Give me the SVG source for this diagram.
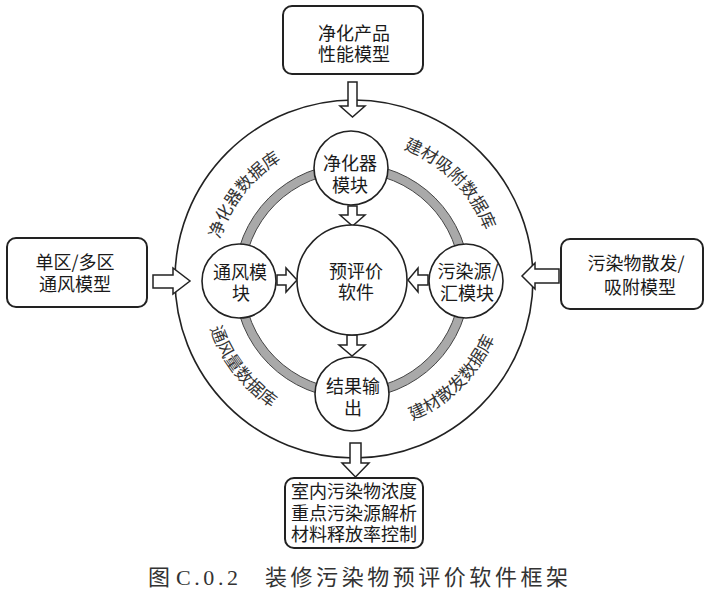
<svg xmlns="http://www.w3.org/2000/svg" width="712" height="600" viewBox="0 0 712 600">
<style>
.box{fill:#fff;stroke:#222;stroke-width:2}
.circ{fill:#fff;stroke:#222;stroke-width:1.6}
.t{font-family:"Noto Sans CJK SC","Noto Sans CJK JP",sans-serif;font-size:18px;fill:#1a1a1a;text-anchor:middle}
.arc{font-family:"Noto Sans CJK SC","Noto Sans CJK JP",sans-serif;font-size:17px;fill:#333;text-anchor:middle}
.arr{fill:#fff;stroke:#222;stroke-width:1.5;stroke-linejoin:miter}
.cap{font-family:"Liberation Serif","Noto Sans CJK SC",serif;font-size:22px;fill:#333}
</style>
<defs>
<path id="topArc" d="M 214 280 A 140 140 0 0 1 494 280"/>
<path id="botArc" d="M 202 280 A 152 152 0 0 0 506 280"/>
</defs>
<rect x="0" y="0" width="712" height="600" fill="#fff"/>

<g id="outer-ring">
<circle cx="354" cy="279" r="179" fill="none" stroke="#222" stroke-width="1.6"/>
<text class="arc"><textPath href="#topArc" startOffset="21%">净化器数据库</textPath></text>
<text class="arc"><textPath href="#topArc" startOffset="75%">建材吸附数据库</textPath></text>
<text class="arc"><textPath href="#botArc" startOffset="21%">通风量数据库</textPath></text>
<text class="arc"><textPath href="#botArc" startOffset="75%">建材散发数据库</textPath></text>
</g>

<g id="inner-ring">
<circle cx="352" cy="281" r="113" fill="none" stroke="#a9a9a9" stroke-width="9"/>
<circle cx="352" cy="281" r="108.5" fill="none" stroke="#444" stroke-width="1"/>
<circle cx="352" cy="281" r="117.5" fill="none" stroke="#444" stroke-width="1"/>
</g>

<g id="connectors">
<polygon class="arr" points="348,82 357,82 357,106 365,106 352.5,117 340,106 348,106"/>
<polygon class="arr" points="348,206 357,206 357,215 365,215 352.5,226 340,215 348,215"/>
<polygon class="arr" points="347,335 357,335 357,345 365,345 352,356 339,345 347,345"/>
<polygon class="arr" points="277,275 286,275 286,268 297,280 286,292 286,285 277,285"/>
<polygon class="arr" points="428,275 418,275 418,268 408,280 418,292 418,285 428,285"/>
<polygon class="arr" points="153,275 173,275 173,268 190,281 173,294 173,288 153,288"/>
<polygon class="arr" points="559,269 535,269 535,263 522,276 535,289 535,283 559,283"/>
<polygon class="arr" points="350,443 361,443 361,463 369,463 355.5,477 342,463 350,463"/>
</g>

<g id="purifier-product-model">
<rect class="box" x="283" y="6" width="140" height="68" rx="9"/>
<text class="t"><tspan x="354" y="40">净化产品</tspan><tspan x="354" y="61">性能模型</tspan></text>
</g>

<g id="zone-ventilation-model">
<rect class="box" x="7" y="238" width="140" height="69" rx="9"/>
<text class="t"><tspan x="75" y="269">单区/多区</tspan><tspan x="75" y="291">通风模型</tspan></text>
</g>

<g id="emission-adsorption-model">
<rect class="box" x="561" y="239" width="142" height="70" rx="9"/>
<text class="t"><tspan x="636" y="270">污染物散发/</tspan><tspan x="640" y="294">吸附模型</tspan></text>
</g>

<g id="output-box">
<rect class="box" x="285" y="478" width="138" height="70" rx="9"/>
<text class="t"><tspan x="354" y="498">室内污染物浓度</tspan><tspan x="354" y="520">重点污染源解析</tspan><tspan x="354" y="541">材料释放率控制</tspan></text>
</g>

<g id="purifier-module">
<circle class="circ" cx="351" cy="168" r="37"/>
<text class="t"><tspan x="350" y="170">净化器</tspan><tspan x="350" y="192">模块</tspan></text>
</g>

<g id="ventilation-module">
<circle class="circ" cx="239" cy="281" r="37"/>
<text class="t"><tspan x="240" y="279">通风模</tspan><tspan x="241" y="300">块</tspan></text>
</g>

<g id="source-sink-module">
<circle class="circ" cx="466" cy="281" r="37"/>
<text class="t"><tspan x="468" y="278">污染源/</tspan><tspan x="467" y="300">汇模块</tspan></text>
</g>

<g id="result-output-module">
<circle class="circ" cx="352" cy="394" r="37"/>
<text class="t"><tspan x="353" y="393">结果输</tspan><tspan x="353" y="415">出</tspan></text>
</g>

<g id="prediction-software">
<circle class="circ" cx="352" cy="280" r="55"/>
<text class="t"><tspan x="356" y="278">预评价</tspan><tspan x="356" y="299">软件</tspan></text>
</g>

<g id="caption">
<text class="cap" x="148" y="585">图</text>
<text class="cap" x="176" y="585" textLength="62" lengthAdjust="spacing">C.0.2</text>
<text class="cap" x="265" y="585" textLength="303" lengthAdjust="spacing">装修污染物预评价软件框架</text>
</g>
</svg>
